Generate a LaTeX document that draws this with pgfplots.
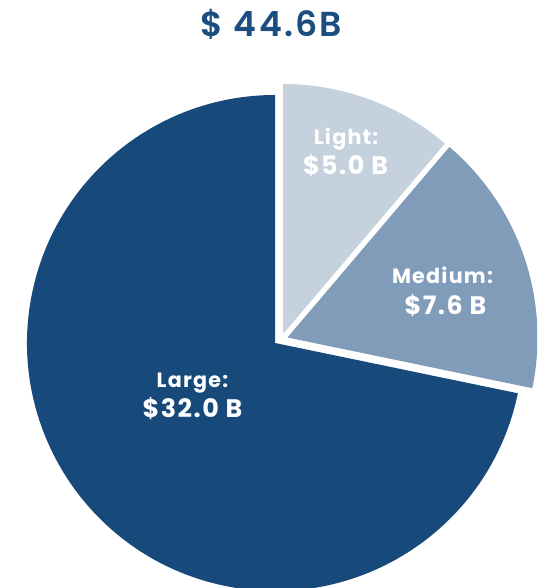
\documentclass[border=0pt]{standalone}
\usepackage{pgfplots}
\pgfplotsset{compat=1.18}
\usepackage{pgfplotstable}
\usepackage{fontspec}
\setmainfont{Poppins}
\newfontfamily\lsfont{Poppins}[LetterSpace=6]
\IfFontExistsTF{Poppins SemiBold}{\newfontfamily\titlefont{Poppins SemiBold}[LetterSpace=6.5]}{\newcommand\titlefont{\lsfont\bfseries}}
\definecolor{cLarge}{HTML}{17497A}
\definecolor{cMed}{HTML}{809CB8}
\definecolor{cLight}{HTML}{C5D2DE}
\definecolor{cTitle}{HTML}{1B4D7E}
\pgfplotstableread{
label value
Light 5.0
Medium 7.6
Large 32.0
}\piedata
\begin{document}%
\pgfplotstablegetelem{0}{value}\of\piedata\let\vLight\pgfplotsretval%
\pgfplotstablegetelem{1}{value}\of\piedata\let\vMed\pgfplotsretval%
\pgfplotstablegetelem{2}{value}\of\piedata\let\vLarge\pgfplotsretval%
\pgfmathsetmacro\vTot{\vLight+\vMed+\vLarge}%
\pgfmathsetmacro\aA{90}%
\pgfmathsetmacro\aB{90-360*\vLight/\vTot}%
\pgfmathsetmacro\aC{\aB-360*\vMed/\vTot}%
\pgfmathsetmacro\aD{\aC-360*\vLarge/\vTot}%
\begin{tikzpicture}
\begin{axis}[x=0.75pt,y=0.75pt,xmin=0,xmax=537,ymin=0,ymax=588,hide axis,clip=false]
\path (axis cs:0,0) (axis cs:537,588);
\begin{scope}
\clip (axis cs:0,0) rectangle (axis cs:537,588);
\fill[cLarge] (axis cs:275,245) -- ++(\aC:186pt) arc[start angle=\aC, end angle=\aD, radius=186pt] -- cycle;
\fill[cMed] (axis cs:287.5,250.5) -- ++(\aB:187.5pt) arc[start angle=\aB, end angle=\aC, radius=187.5pt] -- cycle;
\fill[cLight] (axis cs:283,254) -- ++(\aA:187.5pt) arc[start angle=\aA, end angle=\aB, radius=187.5pt] -- cycle;
\end{scope}
\node[anchor=base, inner sep=0pt, text=cTitle, font=\titlefont\fontsize{26}{30}\selectfont] at (axis cs:271.5,551.5) {\$ 44.6B};
\tikzset{nm/.style={anchor=base, inner sep=0pt, text=white, font=\lsfont\fontsize{15.5}{18}\selectfont\bfseries},
         vl/.style={anchor=base, inner sep=0pt, text=white, font=\lsfont\fontsize{19}{22}\selectfont\bfseries}}
\node[nm] at (axis cs:346,443) {Light:};
\node[vl] at (axis cs:345.5,413) {\$5.0 B};
\node[nm] at (axis cs:442.5,304) {Medium:};
\node[vl] at (axis cs:445.5,273) {\$7.6 B};
\node[nm] at (axis cs:192.5,200) {Large:};
\node[vl] at (axis cs:192.5,170) {\$32.0 B};
\end{axis}
\end{tikzpicture}%
\end{document}
